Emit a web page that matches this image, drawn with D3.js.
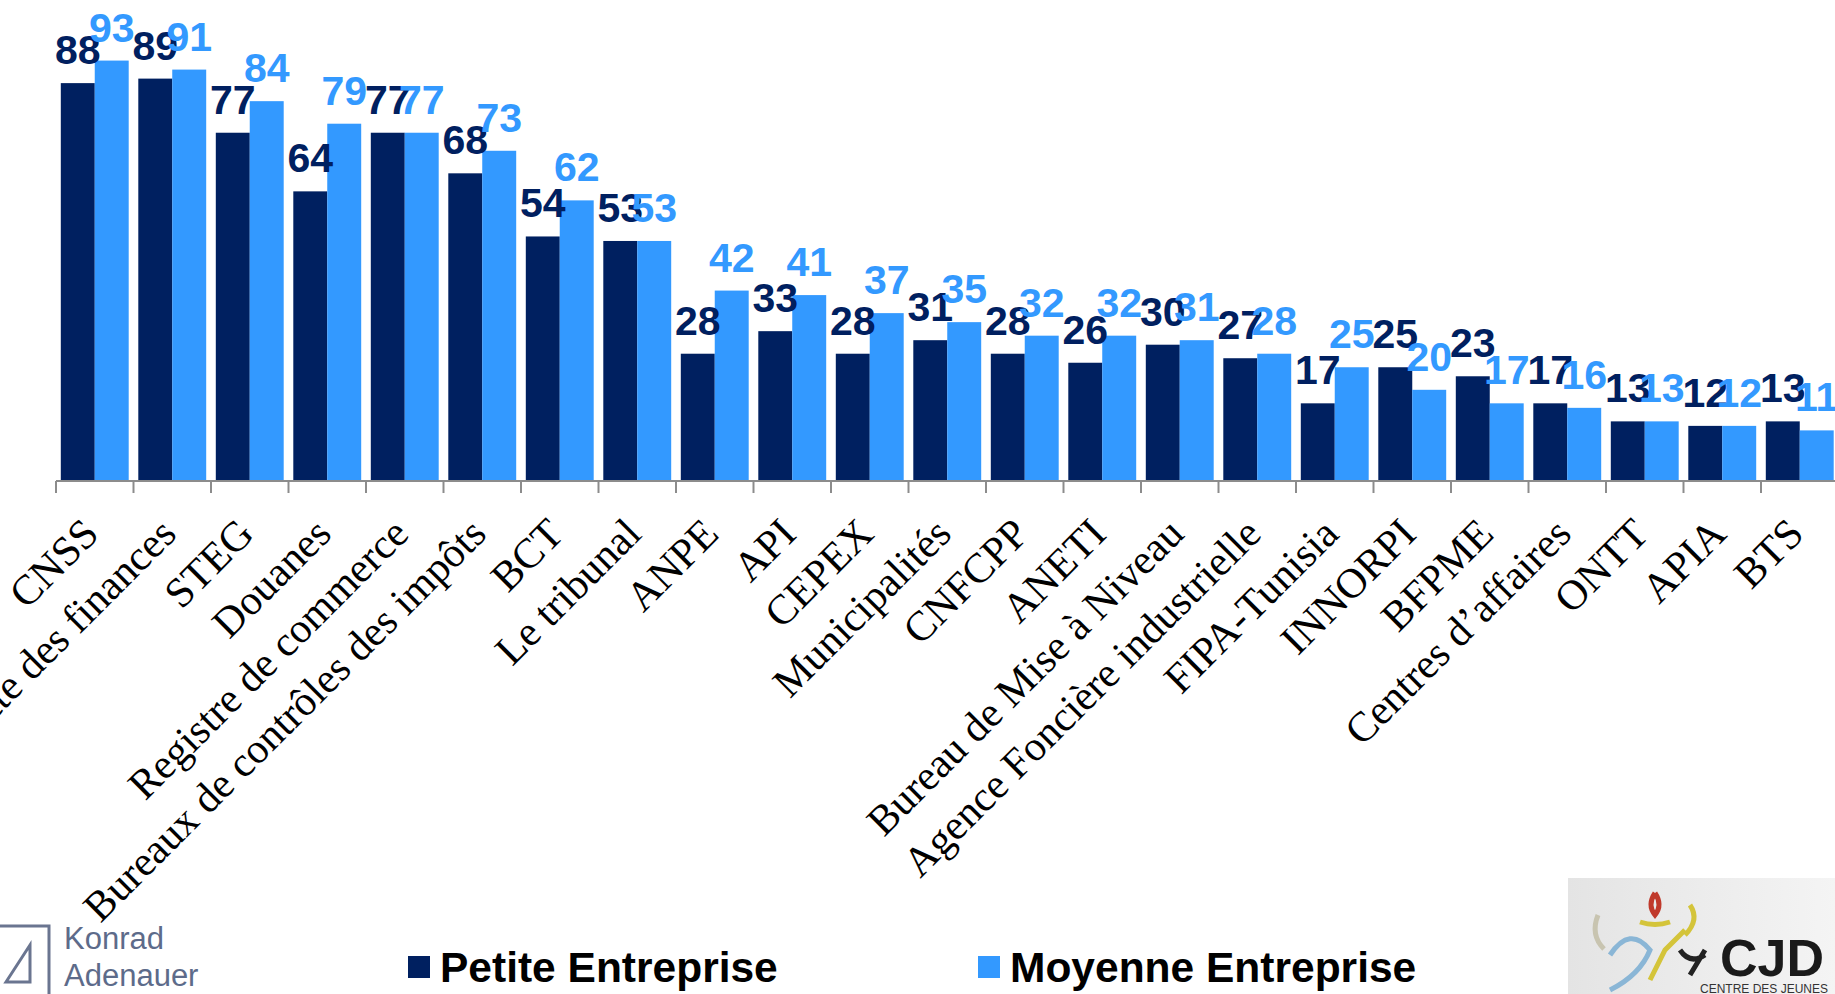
<!DOCTYPE html>
<html><head><meta charset="utf-8">
<script src="https://cdn.jsdelivr.net/npm/d3@7"></script>
<style>html,body{margin:0;padding:0;background:#fff;overflow:hidden}svg{display:block}</style>
</head><body>
<script>
const categories = ["CNSS","Recette des finances","STEG","Douanes","Registre de commerce","Bureaux de contrôles des impôts","BCT","Le tribunal","ANPE","API","CEPEX","Municipalités","CNFCPP","ANETI","Bureau de Mise à Niveau","Agence Foncière industrielle","FIPA-Tunisia","INNORPI","BFPME","Centres d’affaires","ONTT","APIA","BTS"];
const petite = [88,89,77,64,77,68,54,53,28,33,28,31,28,26,30,27,17,25,23,17,13,12,13];
const moyenne = [93,91,84,79,77,73,62,53,42,41,37,35,32,32,31,28,25,20,17,16,13,12,11];
const seriesNames = ["Petite Entreprise","Moyenne Entreprise"];
const colors = ["#002060","#3399FF"];

const W = 1835, H = 994;
const svg = d3.select("body").append("svg").attr("width", W).attr("height", H);

const axisY = 480;
const x = d3.scaleBand().domain(categories).range([56, 56 + 77.5*categories.length]).padding(0);
const xs = d3.scaleBand().domain([0,1]).range([4.8, x.bandwidth() - 4.8]).padding(0);
const y = d3.scaleLinear().domain([0,100]).range([axisY, axisY - 451]);

const data = categories.map((c,i)=>({c, vals:[petite[i], moyenne[i]]}));

const g = svg.append("g");
const groups = g.selectAll("g.grp").data(data).enter().append("g").attr("transform", d=>`translate(${x(d.c)},0)`);
groups.selectAll("rect").data(d=>d.vals.map((v,k)=>({v,k}))).enter().append("rect")
  .attr("x", d=>xs(d.k)).attr("width", xs.bandwidth())
  .attr("y", d=>y(d.v)).attr("height", d=>axisY - y(d.v))
  .attr("fill", d=>colors[d.k]);

// axis line and boundary ticks
const tickXs = categories.map(c=>x(c)).concat([x.range()[1]]);
g.append("line").attr("x1", x.range()[0]).attr("x2", x.range()[1]).attr("y1", axisY+1).attr("y2", axisY+1)
  .attr("stroke", "#8c8c8c").attr("stroke-width", 2);
g.selectAll("line.tick").data(tickXs).enter().append("line").attr("class","tick")
  .attr("x1", d=>d).attr("x2", d=>d).attr("y1", axisY+1).attr("y2", axisY+13)
  .attr("stroke", "#8c8c8c").attr("stroke-width", 2);

// value labels
groups.selectAll("text.val").data(d=>d.vals.map((v,k)=>({v,k}))).enter().append("text")
  .attr("x", d=>xs(d.k) + xs.bandwidth()/2).attr("y", d=>y(d.v) - 19)
  .attr("text-anchor","middle")
  .attr("font-family","'Liberation Sans', Arial, sans-serif").attr("font-weight","bold")
  .attr("font-size", 41).attr("fill", d=>colors[d.k])
  .text(d=>d.v);

// category labels
g.selectAll("text.cat").data(categories).enter().append("text")
  .attr("transform", c=>`translate(${x(c) + x.bandwidth()/2 + 6},${axisY + 56}) rotate(-45)`)
  .attr("text-anchor","end")
  .attr("font-family","'Liberation Serif', 'Times New Roman', serif")
  .attr("font-size", 42).attr("fill","#000")
  .text(c=>c);

// legend
const legX = [408, 978];
const leg = svg.append("g");
seriesNames.forEach((n,k)=>{
  leg.append("rect").attr("x", legX[k]).attr("y", 956).attr("width", 22).attr("height", 22).attr("fill", colors[k]);
  leg.append("text").attr("x", legX[k] + 32).attr("y", 982)
    .attr("font-family","'Liberation Sans', Arial, sans-serif").attr("font-weight","bold")
    .attr("font-size", 42.5).attr("fill","#000").text(n);
});

// Konrad Adenauer logo
const ka = svg.append("g");
ka.append("path").attr("d","M0,926 L49,926 L49,994").attr("fill","none").attr("stroke","#6a7590").attr("stroke-width",3);
ka.append("path").attr("d","M6,982 L30,945 L30,982 Z").attr("fill","none").attr("stroke","#6a7590").attr("stroke-width",3);
ka.append("text").attr("x",64).attr("y",949).attr("font-family","'Liberation Sans Narrow','Liberation Sans',Arial,sans-serif")
  .attr("font-size",31).attr("fill","#5d6b8a").text("Konrad");
ka.append("text").attr("x",64).attr("y",986).attr("font-family","'Liberation Sans Narrow','Liberation Sans',Arial,sans-serif")
  .attr("font-size",31).attr("fill","#5d6b8a").text("Adenauer");

// CJD logo
const cj = svg.append("g");
const grad = svg.append("defs").append("linearGradient").attr("id","cjg").attr("x1","0").attr("x2","1");
grad.append("stop").attr("offset","0").attr("stop-color","#e4e4e4");
grad.append("stop").attr("offset","1").attr("stop-color","#f4f4f4");
cj.append("rect").attr("x",1568).attr("y",878).attr("width",267).attr("height",116).attr("fill","url(#cjg)");
cj.append("path").attr("d","M1598,915 q-8,20 6,34").attr("fill","none").attr("stroke","#c8c4b0").attr("stroke-width",5);
cj.append("path").attr("d","M1655,893 q-8,12 0,22 q8,-10 0,-22").attr("fill","none").attr("stroke","#c0392b").attr("stroke-width",5);
cj.append("path").attr("d","M1640,922 q15,5 30,0").attr("fill","none").attr("stroke","#d4c43a").attr("stroke-width",5);
cj.append("path").attr("d","M1690,905 q10,15 -5,30").attr("fill","none").attr("stroke","#d4c43a").attr("stroke-width",5);
cj.append("path").attr("d","M1610,955 q20,-30 40,-5 q-10,25 -40,40").attr("fill","none").attr("stroke","#8ab6d6").attr("stroke-width",5);
cj.append("path").attr("d","M1650,980 l15,-30 l20,-20").attr("fill","none").attr("stroke","#d4c43a").attr("stroke-width",5);
cj.append("path").attr("d","M1680,950 q10,15 25,5 M1690,975 l15,-25").attr("fill","none").attr("stroke","#222").attr("stroke-width",5);
cj.append("text").attr("x",1720).attr("y",976).attr("font-family","'Liberation Sans',Arial,sans-serif").attr("font-weight","bold")
  .attr("font-size",52).attr("fill","#1a1a1a").text("CJD");
cj.append("text").attr("x",1700).attr("y",993).attr("font-family","'Liberation Sans Narrow','Liberation Sans',Arial,sans-serif")
  .attr("font-size",12).attr("fill","#333").text("CENTRE DES JEUNES");
</script>
</body></html>
